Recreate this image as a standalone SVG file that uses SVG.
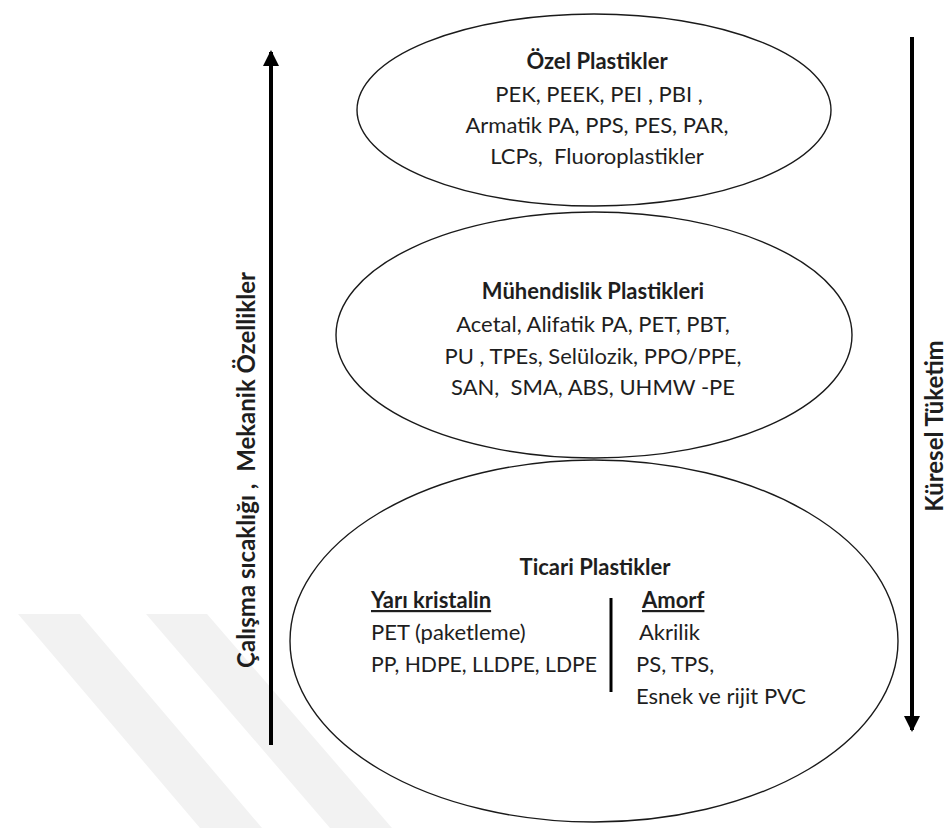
<svg xmlns="http://www.w3.org/2000/svg" width="950" height="828" viewBox="0 0 950 828">
<style>
.t{font-family:Lato,"Open Sans","Liberation Sans",sans-serif;font-size:22px;fill:#1e1e1e;text-anchor:middle}
.b{font-weight:bold}
.l{text-anchor:start}
.u{text-decoration:underline}
.v{font-family:Lato,"Open Sans","Liberation Sans",sans-serif;font-size:24px;font-weight:bold;fill:#1e1e1e;text-anchor:middle}
.ell{fill:#ffffff;stroke:#1a1a1a;stroke-width:1.4}
.arr{stroke:#000;stroke-width:4;fill:none}
.wm{fill:#f2f2f2}
</style>
<defs>
<marker id="ah" markerUnits="userSpaceOnUse" markerWidth="16" markerHeight="16" viewBox="0 0 16 16" refX="14" refY="8" orient="auto">
<path d="M0,0 L16,8 L0,16 Z" fill="#000"/>
</marker>
</defs>
<rect width="950" height="828" fill="#ffffff"/>
<g id="watermark">
<polygon class="wm" points="18,614 80,614 262,828 200,828"/>
<polygon class="wm" points="146,614 207,614 392,828 330,828"/>
</g>
<g id="connectors">
<line class="arr" x1="271" y1="745" x2="271" y2="52" marker-end="url(#ah)"/>
<line class="arr" x1="912" y1="37" x2="912" y2="730" marker-end="url(#ah)"/>
</g>
<g id="bottom">
<ellipse class="ell" cx="594" cy="641" rx="304" ry="181"/>
<text class="t b" x="595" y="575">Ticari Plastikler</text>
<text class="t b l u" x="371" y="608">Yarı kristalin</text>
<text class="t l" x="371" y="640">PET (paketleme)</text>
<text class="t l" x="371" y="672" textLength="226" lengthAdjust="spacingAndGlyphs">PP, HDPE, LLDPE, LDPE</text>
<line x1="611" y1="598" x2="611" y2="692" stroke="#000" stroke-width="3"/>
<text class="t b l u" x="642" y="608">Amorf</text>
<text class="t l" x="639" y="640">Akrilik</text>
<text class="t l" x="636" y="672">PS, TPS,</text>
<text class="t l" x="636" y="704">Esnek ve rijit PVC</text>
</g>
<g id="middle">
<ellipse class="ell" cx="594" cy="335" rx="258" ry="123"/>
<text class="t b" x="593" y="299">Mühendislik Plastikleri</text>
<text class="t" x="593" y="332">Acetal, Alifatik PA, PET, PBT,</text>
<text class="t" x="593" y="364" xml:space="preserve">PU , TPEs, Selülozik, PPO/PPE,</text>
<text class="t" x="593" y="395" xml:space="preserve">SAN,  SMA, ABS, UHMW -PE</text>
</g>
<g id="top">
<ellipse class="ell" cx="594" cy="110" rx="237" ry="96"/>
<text class="t b" x="597" y="69">Özel Plastikler</text>
<text class="t" x="599" y="102" xml:space="preserve">PEK, PEEK, PEI , PBI ,</text>
<text class="t" x="597" y="133">Armatik PA, PPS, PES, PAR,</text>
<text class="t" x="597" y="164" xml:space="preserve">LCPs,  Fluoroplastikler</text>
</g>
<g id="labels">
<text class="v" transform="translate(255,470) rotate(-90)" xml:space="preserve">Çalışma sıcaklığı ,  Mekanik Özellikler</text>
<text class="v" transform="translate(943,426) rotate(-90)">Küresel Tüketim</text>
</g>
</svg>
